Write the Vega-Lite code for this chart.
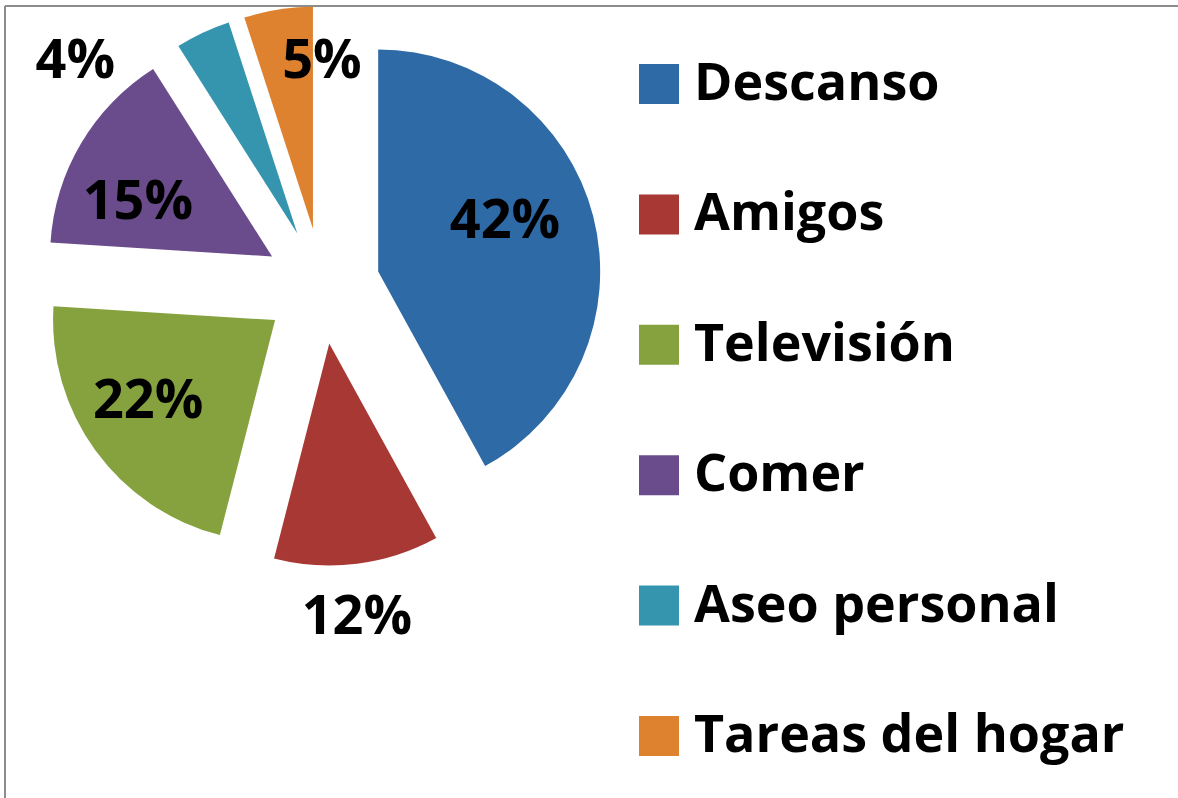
{
  "$schema": "https://vega.github.io/schema/vega-lite/v6.json",
  "width": 1173,
  "height": 792,
  "autosize": {"type": "none"},
  "padding": {"left": 5, "top": 6, "right": 0, "bottom": 0},
  "background": "white",
  "config": {"view": {"stroke": null}},
  "data": {
    "values": [
      {"categoria": "Descanso", "porcentaje": 0.42},
      {"categoria": "Amigos", "porcentaje": 0.12},
      {"categoria": "Televisión", "porcentaje": 0.22},
      {"categoria": "Comer", "porcentaje": 0.15},
      {"categoria": "Aseo personal", "porcentaje": 0.04},
      {"categoria": "Tareas del hogar", "porcentaje": 0.05}
    ]
  },
  "transform": [
    {"window": [{"op": "row_number", "as": "orden"}]},
    {"stack": "porcentaje", "groupby": [], "sort": [{"field": "orden", "order": "ascending"}], "as": ["p0", "p1"]}
  ],
  "layer": [
    {
      "mark": {"type": "rule", "color": "#8c8c8c", "strokeWidth": 2},
      "encoding": {"x": {"value": 0}}
    },
    {
      "mark": {"type": "rule", "color": "#8c8c8c", "strokeWidth": 2},
      "encoding": {"y": {"value": 0}}
    },
    {
      "mark": {
        "type": "arc",
        "radius": 222,
        "x": {"expr": "317 + 58*sin((datum.p0 + datum.p1)*PI)"},
        "y": {"expr": "280 - 58*cos((datum.p0 + datum.p1)*PI)"}
      },
      "encoding": {
        "theta": {"field": "p0", "type": "quantitative", "scale": {"domain": [0, 1]}},
        "theta2": {"field": "p1"},
        "color": {
          "field": "categoria",
          "type": "nominal",
          "sort": null,
          "scale": {"range": ["#2E6AA6", "#A73834", "#86A23F", "#6A4C8C", "#3595AF", "#DF822F"]},
          "legend": {
            "orient": "none",
            "legendX": 628,
            "legendY": 52,
            "title": null,
            "symbolType": "square",
            "symbolSize": 1600,
            "symbolStrokeWidth": 0,
            "symbolOpacity": 1,
            "labelFont": "Open Sans",
            "labelFontSize": 52,
            "labelFontWeight": "bold",
            "labelColor": "black",
            "labelOffset": 9,
            "labelLimit": 700,
            "rowPadding": 78.4,
            "padding": 0
          }
        }
      }
    },
    {
      "mark": {
        "type": "text",
        "font": "Open Sans",
        "fontSize": 54,
        "fontWeight": "bold",
        "color": "black",
        "align": "center",
        "baseline": "middle",
        "x": {"expr": "317 + {'Descanso':194,'Amigos':334,'Televisión':209,'Comer':202,'Aseo personal':333,'Tareas del hogar':224}[datum.categoria] * sin((datum.p0 + datum.p1)*PI + {'Descanso':-5,'Amigos':1.2,'Televisión':2.3,'Comer':-6.3,'Aseo personal':-22.6,'Tareas del hogar':9}[datum.categoria]*PI/180)"},
        "y": {"expr": "280 - {'Descanso':194,'Amigos':334,'Televisión':209,'Comer':202,'Aseo personal':333,'Tareas del hogar':224}[datum.categoria] * cos((datum.p0 + datum.p1)*PI + {'Descanso':-5,'Amigos':1.2,'Televisión':2.3,'Comer':-6.3,'Aseo personal':-22.6,'Tareas del hogar':9}[datum.categoria]*PI/180)"}
      },
      "encoding": {
        "text": {"field": "porcentaje", "type": "quantitative", "format": ".0%"}
      }
    }
  ]
}
